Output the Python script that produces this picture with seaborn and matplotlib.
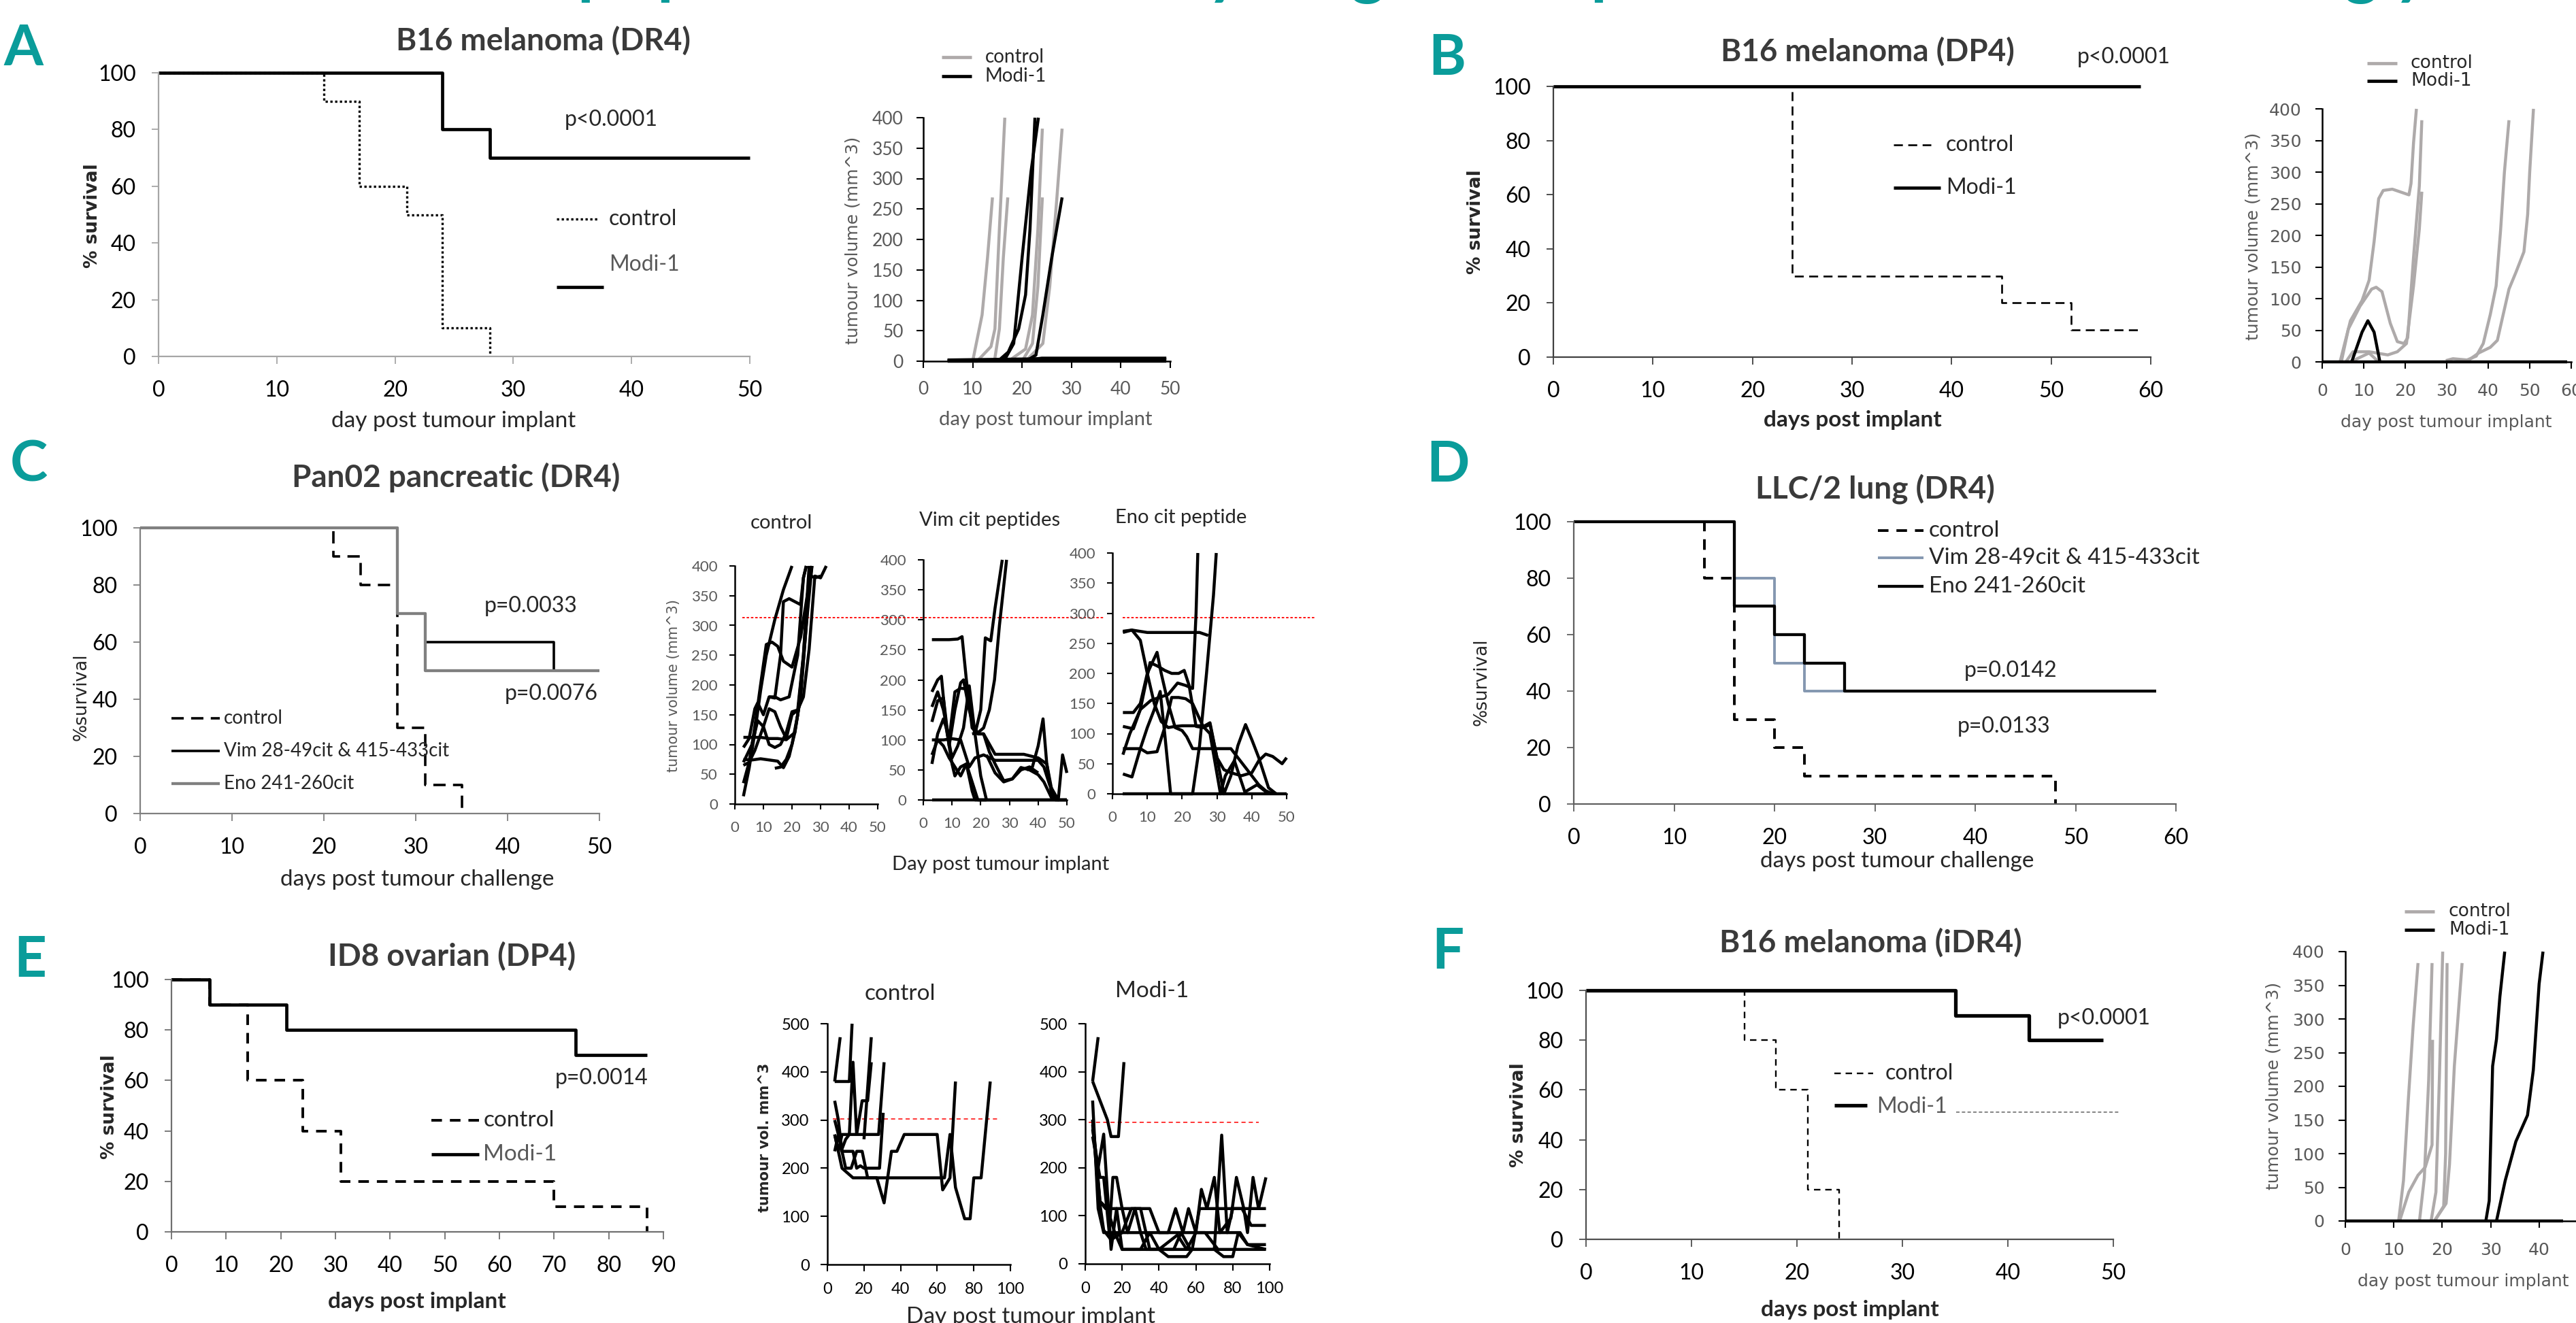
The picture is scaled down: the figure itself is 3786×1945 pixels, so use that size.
import numpy as np
import pandas as pd
import matplotlib
matplotlib.use('Agg')
import matplotlib.pyplot as plt
import seaborn as sns
from matplotlib.lines import Line2D

# ======================= DATA =======================
# --- Panel A: B16 melanoma (DR4) survival
A_CTRL_DAY = [0, 14, 17, 21, 24, 28]
A_CTRL_SURV = [100, 90, 60, 50, 10, 0]
A_MODI_DAY = [0, 24, 28, 50]
A_MODI_SURV = [100, 80, 70, 70]
# --- Panel A tumour volumes
A_TUM_CTRL = [
    ([10, 11.9, 13, 14], [0, 76, 170, 269]),
    ([4.9, 10.9, 13.7, 14.5, 15.4, 16.5], [0, 0, 24, 53, 217, 400]),
    ([14.4, 15.4, 16.2, 17.1], [0, 53, 170, 269]),
    ([17.2, 20.7, 22.1, 23.2, 24.1], [0, 20, 76, 217, 382]),
    ([20, 22.1, 23.2, 24.1], [0, 29, 123, 269]),
    ([20.7, 24.2, 25.6, 27, 28.1], [0, 29, 123, 264, 382]),
]
A_TUM_MODI = [
    ([4.9, 49.2], [0, 0]),
    ([4.9, 20, 22, 24, 49.2], [1, 1, 3, 5, 5]),
    ([4.9, 24, 49.2], [2, 4, 3]),
    ([15.1, 17.2, 19.3, 20.7, 21.6, 22.6], [0, 15, 53, 109, 217, 400]),
    ([16.5, 18.3, 20, 21.8, 23.3], [3, 29, 170, 311, 400]),
    ([20.7, 22.8, 24.2, 26, 28.1], [0, 10, 76, 170, 269]),
]
# --- Panel B: B16 melanoma (DP4)
B_CTRL_DAY = [0, 24, 45, 52, 59]
B_CTRL_SURV = [100, 30, 20, 10, 10]
B_MODI_DAY = [0, 59]
B_MODI_SURV = [100, 100]
B_TUM_CTRL = [
    ([4.3, 6.8, 9.6, 11.3, 12.5, 13.6, 14.7, 16.9, 20.9, 21.4, 22, 22.7],
     [0, 65, 97, 129, 190, 258, 271, 273, 264, 282, 346, 400]),
    ([4.6, 6.3, 9.1, 11.9, 13, 14.4, 16.4, 18.1, 19.7, 20.6, 22, 23.4, 24],
     [0, 52, 88, 115, 118, 111, 61, 32, 29, 38, 165, 278, 382]),
    ([5.7, 7.4, 11.3, 15.8, 18.1, 20.3, 22, 23.4, 24], [0, 16, 16, 11, 16, 29, 120, 210, 269]),
    ([6.8, 11.3, 13.6], [0, 14, 0]),
    ([29.8, 31.5, 34.9, 37.1, 38.8, 40.5, 41.9, 43, 43.9, 45], [2, 5, 3, 9, 29, 75, 120, 210, 300, 382]),
    ([34.9, 37.7, 40.5, 42.2, 43.3, 45, 46.7, 48.6, 49.5, 50, 50.9],
     [1, 14, 23, 34, 66, 115, 142, 174, 233, 301, 400]),
]
B_TUM_MODI = [
    ([0, 59], [0, 0]),
    ([7.1, 9.6, 11, 12.5, 13.9], [0, 47, 65, 47, 0]),
]
# --- Panel C: Pan02 pancreatic (DR4)
C_CTRL_DAY = [0, 21, 24, 28, 31, 35]
C_CTRL_SURV = [100, 90, 80, 30, 10, 0]
C_VIM_DAY = [0, 28, 31, 45, 50]
C_VIM_SURV = [100, 70, 60, 50, 50]
C_ENO_DAY = [0, 28, 31, 50]
C_ENO_SURV = [100, 70, 50, 50]
C_THRESH = [313, 304, 293]
C_TUM_CTRL = [
    ([3, 5, 7, 9, 11, 14, 17, 20], [13, 60, 120, 190, 250, 310, 360, 400]),
    ([3, 5, 7, 9, 11, 13, 15, 17, 20, 23, 25, 27], [35, 70, 130, 200, 268, 272, 265, 240, 230, 280, 340, 400]),
    ([3, 5, 7, 8, 10, 12, 14, 16, 19, 22, 24, 25], [95, 110, 160, 170, 150, 180, 180, 175, 180, 250, 380, 400]),
    ([3, 6, 9, 12, 15, 18, 21, 23, 25, 26.5], [112, 112, 112, 110, 110, 108, 120, 180, 300, 400]),
    ([3, 5, 7, 10, 12, 14, 16, 18, 20, 22, 24, 26], [65, 70, 90, 130, 160, 155, 130, 110, 150, 158, 250, 400]),
    ([3, 6, 9, 12, 15, 17, 19, 21, 23, 25, 27], [75, 74, 76, 74, 72, 61, 80, 120, 180, 300, 400]),
    ([3, 6, 8, 10, 12, 14, 16, 18, 20, 22, 24, 26, 28, 30, 32],
     [70, 100, 140, 130, 100, 95, 100, 120, 155, 158, 180, 260, 383, 380, 400]),
    ([12, 14, 16, 17, 19, 21, 23, 24, 25], [180, 178, 250, 340, 345, 340, 335, 380, 400]),
    ([14, 16, 18, 20, 22, 24, 26, 28, 30], [60, 62, 75, 100, 150, 250, 385, 380, 383]),
]
C_TUM_VIM = [
    ([3, 6, 9, 12, 13.5, 15, 17, 19, 21, 25, 30, 35, 40, 43, 45, 46, 50],
     [267, 267, 267, 268, 272, 200, 120, 110, 110, 76, 76, 76, 70, 60, 10, 0, 0]),
    ([3, 5, 6.3, 8, 10, 11, 13, 15, 17, 18, 50], [180, 200, 206, 120, 60, 40, 55, 60, 15, 0, 0]),
    ([3, 5, 7, 9, 11, 13, 15, 17, 19, 21, 23, 25, 28, 31, 34, 37, 40, 42, 45],
     [155, 180, 150, 100, 180, 186, 185, 130, 110, 110, 80, 60, 32, 35, 54, 50, 42, 30, 0]),
    ([3, 5, 7, 9, 11, 13, 14, 16, 18, 20, 21.6, 23.5, 25, 27.5],
     [130, 165, 170, 90, 150, 195, 200, 150, 110, 150, 270, 265, 320, 400]),
    ([17, 19, 21, 23, 24.8, 26.5, 29], [110, 112, 120, 150, 200, 290, 400]),
    ([3, 5, 7, 10, 13, 16, 18, 21, 25, 30, 35, 40, 42, 44, 47, 48.5, 50],
     [100, 100, 100, 102, 100, 55, 70, 75, 66, 66, 66, 66, 55, 25, 0, 75, 45]),
    ([3, 5, 7, 8, 10, 12, 14, 16, 18, 20, 22], [60, 110, 135, 120, 70, 90, 120, 190, 110, 40, 0]),
    ([3, 5, 7, 9, 11, 13, 15, 17, 19, 22], [75, 100, 90, 70, 55, 40, 60, 30, 0, 0]),
    ([22, 25, 28, 31, 34, 37, 40], [75, 45, 30, 35, 50, 55, 45]),
    ([36, 38, 40, 41.7, 43, 45], [50, 55, 90, 135, 60, 0]),
    ([3, 50], [0, 0]),
]
C_TUM_ENO = [
    ([3, 5.6, 10, 15, 20, 25, 27.5], [268, 272, 268, 268, 268, 268, 263]),
    ([3, 5.6, 8, 10, 12, 14, 16, 18, 20, 22, 24, 26.5, 28, 30, 32, 34, 36, 38.2, 40, 42, 44.8, 47],
     [270, 272, 255, 200, 150, 120, 110, 112, 113, 113, 113, 113, 118, 60, 0, 30, 80, 115, 90, 60, 10, 0]),
    ([3, 6, 8, 10, 12.8, 14, 16, 18, 20, 21.3, 23, 26, 30, 34, 36, 38, 40, 42, 44, 46],
     [135, 135, 150, 200, 235, 200, 150, 110, 105, 95, 75, 75, 75, 75, 60, 45, 30, 15, 5, 0]),
    ([3, 6, 8, 10.8, 13, 15, 17, 19, 20.6, 22, 24, 26, 28, 30, 32, 34, 37, 40, 42, 44, 46, 48.7, 50],
     [112, 108, 140, 218, 212, 205, 200, 200, 205, 180, 112, 110, 115, 60, 40, 35, 30, 35, 55, 66, 62, 50, 60]),
    ([3, 5, 8, 11, 13.4, 16, 18.7, 21, 23, 24, 24.5], [65, 100, 140, 155, 160, 165, 184, 180, 175, 300, 400]),
    ([3, 5.6, 8, 10, 12, 13.7, 15, 16.7, 20, 23, 25, 27, 29, 29.8],
     [33, 28, 75, 110, 140, 170, 100, 0, 0, 0, 80, 200, 330, 400]),
    ([3, 8, 10, 12.8, 15, 17, 19, 21, 23, 26, 28, 31, 32.4, 35, 38, 41.5, 44.8],
     [75, 75, 68, 70, 110, 160, 160, 158, 150, 112, 100, 0, 30, 55, 3, 15, 0]),
    ([3, 50], [0, 0]),
]
# --- Panel D: LLC/2 lung (DR4)
D_CTRL_DAY = [0, 13, 16, 20, 23, 48]
D_CTRL_SURV = [100, 80, 30, 20, 10, 0]
D_VIM_DAY = [0, 16, 20, 23, 58]
D_VIM_SURV = [100, 80, 50, 40, 40]
D_ENO_DAY = [0, 16, 20, 23, 27, 58]
D_ENO_SURV = [100, 70, 60, 50, 40, 40]
# --- Panel E: ID8 ovarian (DP4)
E_CTRL_DAY = [0, 7, 14, 24, 31, 70, 87]
E_CTRL_SURV = [100, 90, 60, 40, 20, 10, 0]
E_MODI_DAY = [0, 7, 21, 74, 87]
E_MODI_SURV = [100, 90, 80, 70, 70]
E_THRESH = [302, 295]
E_TUM_CTRL = [
    ([4, 7], [380, 472]),
    ([4, 8, 12, 13.5], [380, 380, 380, 500]),
    ([4, 6, 8, 11, 14, 16, 18, 20, 23, 28.5, 30.5], [340, 300, 235, 235, 235, 200, 205, 200, 200, 200, 315]),
    ([4, 6, 8, 12, 16, 20, 25, 28, 31], [270, 235, 270, 270, 270, 270, 270, 270, 420]),
    ([4, 6, 10, 13, 16, 19, 22, 27, 31, 35, 38, 42, 50, 60, 63, 67, 70],
     [235, 270, 200, 200, 235, 235, 180, 180, 128, 235, 235, 270, 270, 270, 155, 180, 380]),
    ([4, 8, 10, 12, 14, 16, 19, 22, 24], [300, 240, 260, 270, 420, 270, 340, 340, 420]),
    ([4, 8, 14, 20, 30, 40, 50, 60, 64, 67, 70, 75, 78, 80, 84, 89],
     [270, 200, 180, 180, 180, 180, 180, 180, 180, 270, 160, 95, 95, 180, 180, 380]),
    ([20, 24], [260, 472]),
]
E_TUM_MODI = [
    ([4, 7], [380, 472]),
    ([4, 8, 12, 14, 18, 21], [380, 340, 300, 265, 265, 420]),
    ([4, 7, 10, 15, 30, 50, 70, 84, 88, 98], [340, 115, 65, 65, 65, 65, 65, 65, 40, 40]),
    ([4, 6, 8, 11, 20, 35, 40, 45, 49, 53, 56, 60, 63, 66, 70, 73, 76, 79, 82, 86, 88, 91, 94, 98],
     [300, 220, 130, 115, 115, 115, 65, 65, 115, 65, 115, 65, 155, 115, 180, 65, 80, 95, 180, 115, 65, 180, 115, 180]),
    ([4, 8, 10, 13, 15, 17, 20, 23, 27, 30, 33, 50, 70, 75, 80, 83, 88, 98],
     [265, 180, 180, 65, 180, 180, 115, 65, 115, 65, 30, 30, 30, 15, 15, 65, 40, 30]),
    ([4, 7, 10, 14, 17, 20, 40, 45, 55, 58, 62, 98], [280, 200, 270, 30, 115, 30, 30, 15, 15, 30, 115, 115]),
    ([4, 8, 12, 16, 20, 30, 35, 40, 48, 52, 57, 70, 74, 77, 80, 85, 90, 98],
     [290, 130, 115, 65, 30, 30, 65, 30, 30, 65, 30, 30, 268, 65, 115, 115, 80, 80]),
    ([4, 7, 10, 14, 20, 25, 30, 35, 40, 50, 55, 60, 65, 72, 98],
     [300, 150, 70, 50, 65, 115, 115, 30, 30, 60, 30, 65, 65, 30, 30]),
]
# --- Panel F: B16 melanoma (iDR4)
F_CTRL_DAY = [0, 15, 18, 21, 24]
F_CTRL_SURV = [100, 80, 60, 20, 0]
F_MODI_DAY = [0, 35, 42, 49]
F_MODI_SURV = [100, 90, 80, 80]
F_TUM_CTRL = [
    ([11, 12, 13, 14, 15], [0, 60, 180, 290, 383]),
    ([11.2, 13.1, 15, 16.5, 17.9, 18], [0, 43, 68, 80, 113, 269]),
    ([15.3, 16.3, 17.2, 17.9], [0, 64, 209, 383]),
    ([17.7, 18.7, 19.4, 20.1], [0, 43, 209, 400]),
    ([18.4, 20.3, 20.7, 21], [0, 22, 100, 383]),
    ([18.4, 20.8, 21.5, 22.5, 24.1], [0, 26, 84, 230, 383]),
]
F_TUM_MODI = [
    ([0, 45], [0, 0]),
    ([29, 29.7, 30.4, 31.2, 31.9, 32.9], [0, 30, 230, 270, 333, 400]),
    ([31.2, 33, 35.2, 37.6, 38.8, 40, 40.8], [0, 60, 118, 157, 224, 352, 400]),
]

# ======================= STYLE =======================
sns.set_theme(style='white')
plt.rcParams['font.family'] = ['Lato', 'DejaVu Sans']
plt.rcParams['lines.solid_capstyle'] = 'butt'

W, H = 3786, 1945
fig = plt.figure(figsize=(W / 100, H / 100), dpi=100)
fig.patch.set_facecolor('white')

TEAL = '#0A9C9A'
TITLE_C = '#3A3A3A'
CURVE_GRAY = '#AEAAAA'
TICK_GRAY = '#595959'
SANS_V = ['DejaVu Sans']
LW_SURV = 3.4
LW_TUM = 3.2


def ax_at(x0, x1, ytop, ybot):
    a = fig.add_axes([x0 / W, 1 - ybot / H, (x1 - x0) / W, (ybot - ytop) / H])
    a.set_facecolor('none')
    return a


def txt(x, y, s, size, ha='center', va='center', **kw):
    return fig.text(x / W, 1 - y / H, s, fontsize=size, ha=ha, va=va, **kw)


def key(x0, x1, y, **kw):
    fig.add_artist(Line2D([x0 / W, x1 / W], [1 - y / H, 1 - y / H], **kw))


def steps(a, days, vals, color, lw, dash=None):
    sns.lineplot(x=days, y=vals, ax=a, color=color, linewidth=lw, drawstyle='steps-post',
                 estimator=None, sort=False, clip_on=False)
    if dash:
        a.lines[-1].set_dashes(dash)


def curves(a, data, color, lw):
    for d, v in data:
        sns.lineplot(x=d, y=v, ax=a, color=color, linewidth=lw, estimator=None, sort=False,
                     clip_on=False)


def thresh(a, x0, x1, yv, dash, lw=1.3):
    sns.lineplot(x=[x0, x1], y=[yv, yv], ax=a, color='red', linewidth=lw, estimator=None,
                 sort=False, clip_on=False)
    a.lines[-1].set_dashes(dash)


def style_surv(a, xmax, spine):
    a.set_xlim(0, xmax)
    a.set_ylim(0, 100)
    xt = list(range(0, xmax + 1, 10))
    yt = list(range(0, 101, 20))
    a.set_xticks(xt, labels=[str(v) for v in xt], fontsize=23, color='black')
    a.set_yticks(yt, labels=[str(v) for v in yt], fontsize=23, color='black')
    a.tick_params(axis='x', bottom=True, direction='out', length=8, width=1.3, color=spine, pad=17)
    a.tick_params(axis='y', left=True, direction='out', length=7, width=1.3, color=spine, pad=17)
    for s in ('top', 'right'):
        a.spines[s].set_visible(False)
    for s in ('left', 'bottom'):
        a.spines[s].set_color(spine)
        a.spines[s].set_linewidth(1.6)
    a.set_xlabel('')
    a.set_ylabel('')
    a.grid(False)


def style_tum(a, xmax, xstep, ymax, ystep, size, color, family, pad, tl=7):
    a.set_xlim(0, xmax)
    a.set_ylim(0, ymax)
    xt = list(range(0, xmax + 1, xstep))
    yt = list(range(0, ymax + 1, ystep))
    a.set_xticks(xt, labels=[str(v) for v in xt], fontsize=size, color=color, family=family)
    a.set_yticks(yt, labels=[str(v) for v in yt], fontsize=size, color=color, family=family)
    a.tick_params(axis='both', bottom=True, left=True, direction='out', length=tl, width=1.5,
                  color='black', pad=pad)
    for s in ('top', 'right'):
        a.spines[s].set_visible(False)
    for s in ('left', 'bottom'):
        a.spines[s].set_color('black')
        a.spines[s].set_linewidth(1.8)
    a.set_xlabel('')
    a.set_ylabel('')
    a.grid(False)


def letter(x, y, s):
    txt(x, y, s, 60, color=TEAL, fontweight='bold')


def title(x, y, s):
    txt(x, y, s, 33, color=TITLE_C, fontweight='bold')


def ylab_bold(x, y, s, size=19):
    txt(x, y, s, size, rotation=90, fontweight='bold', family=SANS_V)


# cut-off teal heading at very top (only descenders visible)
for xx, ch in [(876, 'p'), (993, 'p'), (1799, 'y'), (2010, 'g'), (2365, 'p'), (3470, 'g'), (3543, 'y')]:
    fig.text(xx / W, 1 + 12 / H, ch, fontsize=70, color=TEAL, fontweight='bold',
             ha='center', va='baseline')

# ======================= PANEL A =======================
a = ax_at(233, 1102, 107, 524)
steps(a, A_CTRL_DAY, A_CTRL_SURV, 'black', 2.4, dash=(1, 1.1))
steps(a, A_MODI_DAY, A_MODI_SURV, 'black', LW_SURV)
style_surv(a, 50, '#A6A6A6')
letter(34, 72, 'A')
title(799, 60, 'B16 melanoma (DR4)')
txt(898, 176, 'p<0.0001', 23)
key(818, 880, 322, color='black', lw=2.4, linestyle=(0, (1, 1.1)))
txt(895, 322, 'control', 23, ha='left')
txt(895, 389, 'Modi-1', 23, ha='left', color='#595959')
key(818, 887, 422, color='black', lw=LW_SURV)
txt(667, 619, 'day post tumour implant', 24)
ylab_bold(136, 317, '% survival')

# A tumour
a = ax_at(1357, 1720, 173, 531)
curves(a, A_TUM_CTRL, CURVE_GRAY, LW_TUM)
curves(a, A_TUM_MODI, 'black', LW_TUM)
style_tum(a, 50, 10, 400, 50, 19, TICK_GRAY, ['Lato'], 14)
key(1384, 1428, 84, color=CURVE_GRAY, lw=3.4)
key(1384, 1428, 112, color='black', lw=3.4)
txt(1448, 84, 'control', 20, ha='left')
txt(1448, 112, 'Modi-1', 20, ha='left')
txt(1537, 617, 'day post tumour implant', 21, color=TICK_GRAY)
txt(1253, 353, 'tumour volume (mm^3)', 18, rotation=90, color=TICK_GRAY, family=SANS_V)

# ======================= PANEL B =======================
a = ax_at(2283, 3161, 127, 525)
steps(a, B_CTRL_DAY, B_CTRL_SURV, 'black', 1.9, dash=(5, 3))
steps(a, B_MODI_DAY, B_MODI_SURV, 'black', LW_SURV)
style_surv(a, 60, '#404040')
letter(2127, 86, 'B')
title(2745, 76, 'B16 melanoma (DP4)')
txt(3121, 84, 'p<0.0001', 23)
key(2783, 2838, 213, color='black', lw=1.9, linestyle=(0, (5, 3)))
txt(2860, 213, 'control', 23, ha='left')
key(2783, 2852, 276, color='black', lw=LW_SURV)
txt(2860, 276, 'Modi-1', 23, ha='left')
txt(2723, 617, 'days post implant', 24, fontweight='bold')
ylab_bold(2169, 326, '% survival')

# B tumour
a = ax_at(3413, 3779, 160, 532)
curves(a, B_TUM_CTRL, CURVE_GRAY, LW_TUM)
curves(a, B_TUM_MODI, 'black', LW_TUM)
style_tum(a, 60, 10, 400, 50, 18, TICK_GRAY, SANS_V, 15)
key(3479, 3523, 93, color=CURVE_GRAY, lw=3.4)
key(3479, 3523, 119, color='black', lw=3.4)
txt(3543, 93, 'control', 19, ha='left', family=SANS_V)
txt(3543, 119, 'Modi-1', 19, ha='left', family=SANS_V)
txt(3595, 621, 'day post tumour implant', 18, color=TICK_GRAY, family=SANS_V)
txt(3312, 347, 'tumour volume (mm^3)', 18, rotation=90, color=TICK_GRAY, family=SANS_V)

# ======================= PANEL C =======================
a = ax_at(206, 881, 776, 1196)
steps(a, C_CTRL_DAY, C_CTRL_SURV, 'black', 2.6, dash=(5, 3))
steps(a, C_VIM_DAY, C_VIM_SURV, 'black', 2.6)
steps(a, C_ENO_DAY, C_ENO_SURV, '#808080', 3.1)
style_surv(a, 50, '#808080')
letter(42, 684, 'C')
title(670, 702, 'Pan02 pancreatic (DR4)')
txt(780, 891, 'p=0.0033', 23)
txt(810, 1020, 'p=0.0076', 23)
key(252, 323, 1056, color='black', lw=2.6, linestyle=(0, (5, 3)))
key(252, 323, 1104, color='black', lw=2.6)
key(252, 323, 1152, color='#808080', lw=3.1)
txt(329, 1056, 'control', 20, ha='left')
txt(329, 1104, 'Vim 28-49cit & 415-433cit', 20, ha='left')
txt(329, 1152, 'Eno 241-260cit', 20, ha='left')
txt(613, 1293, 'days post tumour challenge', 24)
txt(119, 1025, '%survival', 19, rotation=90, family=SANS_V)

# C tumour minis
a = ax_at(1080, 1290, 832, 1182)
thresh(a, 2.6, 50, C_THRESH[0], (2, 1.5))
curves(a, C_TUM_CTRL, 'black', LW_TUM)
style_tum(a, 50, 10, 400, 50, 16, TICK_GRAY, ['Lato'], 12, tl=6)
a = ax_at(1357, 1568, 823, 1176)
thresh(a, -16, 63, C_THRESH[1], (2, 1.5))
curves(a, C_TUM_VIM, 'black', LW_TUM)
style_tum(a, 50, 10, 400, 50, 16, TICK_GRAY, ['Lato'], 12, tl=6)
a = ax_at(1635, 1891, 813, 1167)
thresh(a, 3, 58, C_THRESH[2], (2, 1.5))
curves(a, C_TUM_ENO, 'black', LW_TUM)
style_tum(a, 50, 10, 400, 50, 16, TICK_GRAY, ['Lato'], 12, tl=6)
txt(1148, 769, 'control', 21)
txt(1455, 765, 'Vim cit peptides', 21)
txt(1736, 761, 'Eno cit peptide', 21)
txt(1471, 1271, 'Day post tumour implant', 21)
txt(990, 1008, 'tumour volume (mm^3)', 15, rotation=90, color=TICK_GRAY, family=SANS_V)

# ======================= PANEL D =======================
a = ax_at(2313, 3198, 767, 1182)
steps(a, D_CTRL_DAY, D_CTRL_SURV, 'black', 2.8, dash=(4, 3))
steps(a, D_VIM_DAY, D_VIM_SURV, '#8497B0', 2.8)
steps(a, D_ENO_DAY, D_ENO_SURV, 'black', 3.1)
style_surv(a, 60, '#606060')
letter(2128, 685, 'D')
title(2756, 719, 'LLC/2 lung (DR4)')
key(2760, 2827, 780, color='black', lw=2.8, linestyle=(0, (4, 3)))
key(2760, 2827, 820, color='#8497B0', lw=2.8)
key(2760, 2827, 862, color='black', lw=3.1)
txt(2835, 780, 'control', 24, ha='left')
txt(2835, 820, 'Vim 28-49cit & 415-433cit', 24, ha='left')
txt(2835, 862, 'Eno 241-260cit', 24, ha='left')
txt(2955, 986, 'p=0.0142', 23)
txt(2945, 1068, 'p=0.0133', 23)
txt(2788, 1266, 'days post tumour challenge', 24)
txt(2178, 1003, '%survival', 19, rotation=90, family=SANS_V)

# ======================= PANEL E =======================
a = ax_at(252, 975, 1440, 1811)
steps(a, E_CTRL_DAY, E_CTRL_SURV, 'black', 2.8, dash=(4, 3))
steps(a, E_MODI_DAY, E_MODI_SURV, 'black', LW_SURV)
style_surv(a, 90, '#707070')
letter(44, 1412, 'E')
title(664, 1406, 'ID8 ovarian (DP4)')
txt(884, 1585, 'p=0.0014', 23)
key(634, 704, 1647, color='black', lw=2.8, linestyle=(0, (4, 3)))
txt(711, 1647, 'control', 24, ha='left')
key(634, 704, 1697, color='black', lw=LW_SURV)
txt(710, 1697, 'Modi-1', 24, ha='left', color='#595959')
txt(613, 1914, 'days post implant', 24, fontweight='bold')
ylab_bold(161, 1627, '% survival')

# E tumour minis
a = ax_at(1216, 1485, 1505, 1859)
thresh(a, 3, 94.6, E_THRESH[0], (4, 3), lw=1.1)
curves(a, E_TUM_CTRL, 'black', LW_TUM)
style_tum(a, 100, 20, 500, 100, 17, 'black', ['Lato'], 12, tl=7)
a = ax_at(1595, 1866, 1505, 1858)
thresh(a, 2, 94, E_THRESH[1], (4, 3), lw=1.1)
curves(a, E_TUM_MODI, 'black', LW_TUM)
style_tum(a, 100, 20, 500, 100, 17, 'black', ['Lato'], 12, tl=7)
txt(1323, 1461, 'control', 24)
txt(1693, 1457, 'Modi-1', 24)
txt(1515, 1936, 'Day post tumour implant', 24)
ylab_bold(1124, 1672, 'tumour vol. mm^3', size=15)

# ======================= PANEL F =======================
a = ax_at(2331, 3106, 1456, 1822)
steps(a, F_CTRL_DAY, F_CTRL_SURV, 'black', 1.7, dash=(4, 3))
steps(a, F_MODI_DAY, F_MODI_SURV, 'black', 3.8)
style_surv(a, 50, '#505050')
letter(2128, 1400, 'F')
title(2749, 1386, 'B16 melanoma (iDR4)')
txt(3092, 1497, 'p<0.0001', 23)
key(2696, 2753, 1578, color='black', lw=1.7, linestyle=(0, (4, 3)))
txt(2771, 1578, 'control', 23, ha='left')
key(2696, 2744, 1625, color='black', lw=3.8)
txt(2758, 1627, 'Modi-1', 23, ha='left', color='#595959')
key(2875, 3114, 1635, color='#707070', lw=1.2, linestyle=(0, (3, 2)))
txt(2719, 1926, 'days post implant', 24, fontweight='bold')
ylab_bold(2232, 1639, '% survival')

# F tumour
a = ax_at(3447, 3803, 1399, 1795)
curves(a, F_TUM_CTRL, CURVE_GRAY, LW_TUM)
curves(a, F_TUM_MODI, 'black', LW_TUM)
style_tum(a, 50, 10, 400, 50, 18, TICK_GRAY, SANS_V, 15)
key(3534, 3578, 1340, color=CURVE_GRAY, lw=3.4)
key(3534, 3578, 1367, color='black', lw=3.4)
txt(3599, 1340, 'control', 19, ha='left', family=SANS_V)
txt(3599, 1367, 'Modi-1', 19, ha='left', family=SANS_V)
txt(3465, 1884, 'day post tumour implant', 18, ha='left', color=TICK_GRAY, family=SANS_V)
txt(3342, 1596, 'tumour volume (mm^3)', 18, rotation=90, color=TICK_GRAY, family=SANS_V)

fig.savefig('out.png', dpi=100)
